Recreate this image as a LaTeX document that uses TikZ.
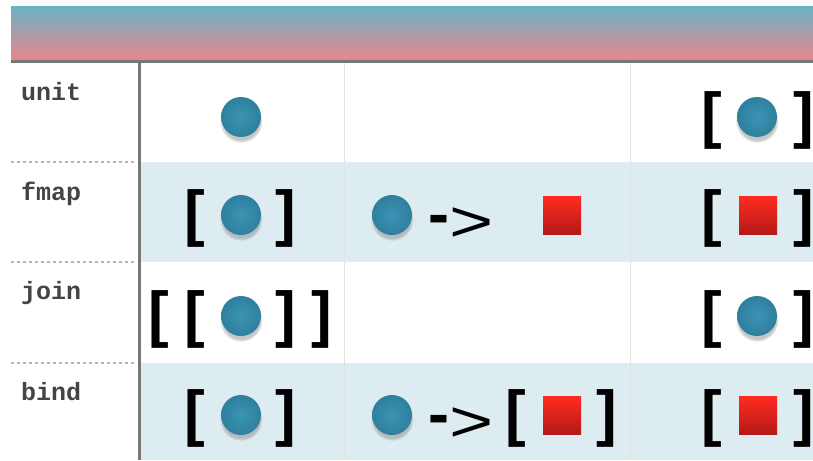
\documentclass[tikz,border=0pt]{standalone}
\usepackage{fontspec}
\usepackage{graphicx}
\setmainfont{Liberation Sans}
\newfontfamily\labelfont{Liberation Mono}
\usetikzlibrary{shadows,fadings}

\definecolor{hdtop}{HTML}{6DB1C4}
\definecolor{hdmid}{HTML}{A99FA8}
\definecolor{hdbot}{HTML}{E9878A}
\definecolor{rulegray}{HTML}{777777}
\definecolor{bandblue}{HTML}{DDECF1}
\definecolor{colline}{HTML}{E2E2E2}
\definecolor{dashgray}{HTML}{BBB5B0}
\definecolor{labgray}{HTML}{444444}
\definecolor{dotin}{HTML}{3B94B4}
\definecolor{dotout}{HTML}{2F7F9E}
\definecolor{sqtop}{HTML}{FF2B21}
\definecolor{sqbot}{HTML}{B41A17}

\tikzset{
  dotnode/.style={circle, minimum size=40pt, inner sep=0pt,
    inner color=dotin, outer color=dotout,
    circular drop shadow={shadow xshift=0pt, shadow yshift=-4pt,
      shadow scale=1.08, opacity=0.45}},
  sqnode/.style={rectangle, minimum size=38pt, inner sep=0pt,
    top color=sqtop, bottom color=sqbot},
  brk/.style={font=\bfseries\fontsize{62}{62}\selectfont, inner sep=0pt, anchor=base},
  arrnode/.style={font=\fontsize{63}{63}\selectfont, inner sep=0pt, anchor=base},
  rowlabel/.style={font=\labelfont\bfseries\fontsize{25}{25}\selectfont,
    text=labgray, inner sep=0pt, anchor=base west},
  sepline/.style={dashgray, line width=1.4pt, dash pattern=on 3pt off 3pt},
}
% the "->" sign, with the dash set on the axis of the wide ">"
\newcommand{\arrowtext}{\raisebox{0.08em}{\bfseries -}\scalebox{1.2}[0.92]{>}}

\begin{document}
\begin{tikzpicture}[x=1pt, y=-1pt]
  \useasboundingbox (0,0) rectangle (813,460);

  % header bar
  \shade[top color=hdtop, middle color=hdmid, bottom color=hdbot] (11,7) rectangle (813,60.5);
  \fill[rulegray] (11,60) rectangle (813,63);

  % shaded rows
  \fill[bandblue] (141,162) rectangle (813,262);
  \fill[bandblue] (141,363) rectangle (813,460);

  % column lines
  \draw[colline, line width=1pt] (344,63) -- (344,460);
  \draw[colline, line width=1pt] (630,63) -- (630,460);
  \fill[rulegray] (138,63) rectangle (141,460);

  % row separators in the label column
  \foreach \yy in {162,262,363} \draw[sepline] (11,\yy) -- (135,\yy);

  % row labels
  \node[rowlabel] (lunit) at (21,100) {unit};
  \node[rowlabel] (lfmap) at (21,200) {fmap};
  \node[rowlabel] (ljoin) at (21,299) {join};
  \node[rowlabel] (lbind) at (21,400) {bind};

  % unit
  \node[dotnode] (u1) at (241,117) {};
  \node[brk] (u3l) at (712,136) {[};
  \node[dotnode] (u3) at (757,117) {};
  \node[brk] (u3r) at (804,136) {]};

  % fmap
  \node[brk] (f1l) at (195,234) {[};
  \node[dotnode] (f1) at (241,215) {};
  \node[brk] (f1r) at (286,234) {]};
  \node[dotnode] (f2a) at (392,215) {};
  \node[arrnode] (f2arr) at (461,241) {\arrowtext};
  \node[sqnode] (f2b) at (562,215) {};
  \node[brk] (f3l) at (712,234) {[};
  \node[sqnode] (f3) at (758,215) {};
  \node[brk] (f3r) at (804,234) {]};

  % join
  \node[brk] (j1ll) at (159,335) {[};
  \node[brk] (j1l) at (195,335) {[};
  \node[dotnode] (j1) at (241,316) {};
  \node[brk] (j1r) at (286,335) {]};
  \node[brk] (j1rr) at (322,335) {]};
  \node[brk] (j3l) at (712,335) {[};
  \node[dotnode] (j3) at (757,316) {};
  \node[brk] (j3r) at (804,335) {]};

  % bind
  \node[brk] (b1l) at (195,434) {[};
  \node[dotnode] (b1) at (241,415) {};
  \node[brk] (b1r) at (286,434) {]};
  \node[dotnode] (b2a) at (392,415) {};
  \node[arrnode] (b2arr) at (461,441) {\arrowtext};
  \node[brk] (b2l) at (516,434) {[};
  \node[sqnode] (b2b) at (562,415) {};
  \node[brk] (b2r) at (607,434) {]};
  \node[brk] (b3l) at (712,434) {[};
  \node[sqnode] (b3) at (758,415) {};
  \node[brk] (b3r) at (804,434) {]};
\end{tikzpicture}
\end{document}
